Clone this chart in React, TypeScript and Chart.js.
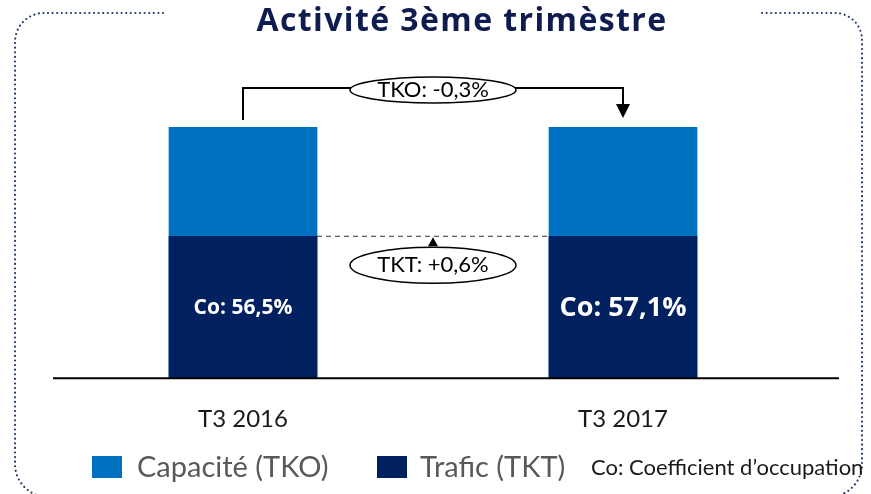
import React, { useEffect, useRef } from "react";
import { Chart, registerables } from "chart.js";

Chart.register(...registerables);

// ---- data ----
const chartTitle = "Activité 3ème trimèstre";
const categories = ["T3 2016", "T3 2017"];
const capaciteTKO = [100, 100];
const traficTKT = [56.5, 56.5];
const coefficientLabels = ["Co: 56,5%", "Co: 57,1%"];
const tkoChangeLabel = "TKO: -0,3%";
const tktChangeLabel = "TKT: +0,6%";
const legendLabels = ["Capacité (TKO)", "Trafic (TKT)"];
const legendNote = "Co: Coefficient d’occupation";

const LIGHT = "#0070C0";
const DARK = "#002060";
const FONT = "Lato, 'Open Sans', sans-serif";
const BOLD_FONT = "'Open Sans', Lato, sans-serif";

const annotationPlugin = {
  id: "annotations",
  beforeDraw(chart: any) {
    const ctx = chart.ctx;
    ctx.save();
    ctx.strokeStyle = "#1f3864";
    ctx.lineWidth = 2.2;
    ctx.lineCap = "round";
    ctx.setLineDash([0, 4.6]);
    ctx.beginPath();
    ctx.moveTo(163, 13);
    ctx.lineTo(44, 13);
    ctx.arcTo(15, 13, 15, 42, 29);
    ctx.lineTo(15, 464);
    ctx.arcTo(15, 497, 48, 497, 33);
    ctx.lineTo(829, 497);
    ctx.arcTo(862, 497, 862, 464, 33);
    ctx.lineTo(862, 40);
    ctx.arcTo(862, 13, 835, 13, 27);
    ctx.lineTo(760, 13);
    ctx.stroke();
    ctx.restore();
  },
  afterDatasetsDraw(chart: any) {
    const ctx = chart.ctx;
    const xs = chart.scales.x;
    const ys = chart.scales.y;
    const x0 = xs.getPixelForValue(0);
    const x1 = xs.getPixelForValue(1);
    const mid = (x0 + x1) / 2;
    const top0 = ys.getPixelForValue(capaciteTKO[0]);
    const top1 = ys.getPixelForValue(capaciteTKO[1]);
    const split0 = ys.getPixelForValue(traficTKT[0]);
    const base = ys.getPixelForValue(0);
    const meta = chart.getDatasetMeta(0);
    const half = meta.data[0].width / 2;

    ctx.save();
    // baseline
    ctx.strokeStyle = "#000";
    ctx.lineWidth = 2;
    ctx.beginPath();
    ctx.moveTo(53, base);
    ctx.lineTo(839, base);
    ctx.stroke();

    // TKO connector
    const lineY = top0 - 39;
    ctx.lineWidth = 2;
    ctx.beginPath();
    ctx.moveTo(x0, top0 - 7);
    ctx.lineTo(x0, lineY);
    ctx.lineTo(x1, lineY);
    ctx.lineTo(x1, top1 - 20);
    ctx.stroke();
    ctx.fillStyle = "#000";
    ctx.beginPath();
    ctx.moveTo(x1, top1 - 9);
    ctx.lineTo(x1 - 7, top1 - 23);
    ctx.lineTo(x1 + 7, top1 - 23);
    ctx.closePath();
    ctx.fill();

    // ellipse TKO
    ctx.beginPath();
    ctx.ellipse(mid, lineY + 2, 83, 13, 0, 0, Math.PI * 2);
    ctx.fillStyle = "#fff";
    ctx.fill();
    ctx.lineWidth = 1.5;
    ctx.strokeStyle = "#000";
    ctx.stroke();
    ctx.fillStyle = "#000";
    ctx.font = `22px ${FONT}`;
    ctx.textAlign = "center";
    ctx.textBaseline = "middle";
    ctx.fillText(tkoChangeLabel, mid, lineY + 2);

    // dashed TKT line
    ctx.setLineDash([5, 4]);
    ctx.lineWidth = 1;
    ctx.strokeStyle = "#333";
    ctx.beginPath();
    ctx.moveTo(x0 + half, split0);
    ctx.lineTo(x1 - half, split0);
    ctx.stroke();
    ctx.setLineDash([]);

    // small up arrow
    ctx.fillStyle = "#000";
    ctx.beginPath();
    ctx.moveTo(mid, split0 + 1);
    ctx.lineTo(mid - 5, split0 + 10);
    ctx.lineTo(mid + 5, split0 + 10);
    ctx.closePath();
    ctx.fill();

    // ellipse TKT
    const ey = split0 + 29;
    ctx.beginPath();
    ctx.ellipse(mid, ey, 83, 18, 0, 0, Math.PI * 2);
    ctx.fillStyle = "#fff";
    ctx.fill();
    ctx.lineWidth = 1.5;
    ctx.strokeStyle = "#000";
    ctx.stroke();
    ctx.fillStyle = "#000";
    ctx.font = `22px ${FONT}`;
    ctx.fillText(tktChangeLabel, mid, ey);

    // Co labels
    ctx.fillStyle = "#fff";
    ctx.font = `bold 21px ${BOLD_FONT}`;
    ctx.fillText(coefficientLabels[0], x0, 308);
    ctx.font = `bold 27px ${BOLD_FONT}`;
    ctx.fillText(coefficientLabels[1], x1, 308);
    ctx.restore();
  },
};

export default function App() {
  const ref = useRef<HTMLCanvasElement>(null);
  useEffect(() => {
    if (!ref.current) return;
    const chart = new Chart(ref.current, {
      type: "bar",
      data: {
        labels: categories,
        datasets: [
          {
            label: legendLabels[1],
            data: traficTKT,
            backgroundColor: DARK,
            barThickness: 148,
            grouped: false,
          } as any,
          {
            label: legendLabels[0],
            data: capaciteTKO,
            backgroundColor: LIGHT,
            barThickness: 148,
            grouped: false,
          } as any,
        ],
      },
      options: {
        responsive: false,
        animation: false,
        layout: { padding: { left: 53, right: 58, top: 127, bottom: 33 } },
        plugins: {
          legend: { display: false },
          title: { display: false },
          tooltip: { enabled: false },
        },
        scales: {
          x: {
            grid: { display: false, drawTicks: false },
            border: { display: false },
            ticks: {
              padding: 27,
              color: "#1a1a1a",
              font: { family: FONT, size: 24 },
            },
          },
          y: {
            display: false,
            min: 0,
            max: 100,
          },
        },
      },
      plugins: [annotationPlugin],
    });
    return () => chart.destroy();
  }, []);

  return (
    <div style={{ position: "absolute", left: 0, top: 0, width: 871, height: 494, background: "#fff", overflow: "hidden", fontFamily: FONT }}>
      <canvas ref={ref} width={871} height={494} style={{ position: "absolute", left: 0, top: 0 }} />
      <div style={{ position: "absolute", left: 162, top: 1, width: 600, textAlign: "center", fontFamily: BOLD_FONT, fontSize: 32, fontWeight: 700, letterSpacing: "1.4px", color: "#0f1c50", lineHeight: "36px", whiteSpace: "nowrap" }}>
        {chartTitle}
      </div>
      <div style={{ position: "absolute", left: 92, top: 456, width: 30, height: 22, background: LIGHT }} />
      <div style={{ position: "absolute", left: 137, top: 449, fontSize: 29, lineHeight: "34px", color: "#595959", whiteSpace: "nowrap" }}>{legendLabels[0]}</div>
      <div style={{ position: "absolute", left: 377, top: 456, width: 30, height: 22, background: DARK }} />
      <div style={{ position: "absolute", left: 420, top: 449, fontSize: 29, lineHeight: "34px", color: "#595959", whiteSpace: "nowrap" }}>{legendLabels[1]}</div>
      <div style={{ position: "absolute", left: 591, top: 453, fontSize: 22, lineHeight: "28px", color: "#1a1a1a", whiteSpace: "nowrap" }}>{legendNote}</div>
    </div>
  );
}
